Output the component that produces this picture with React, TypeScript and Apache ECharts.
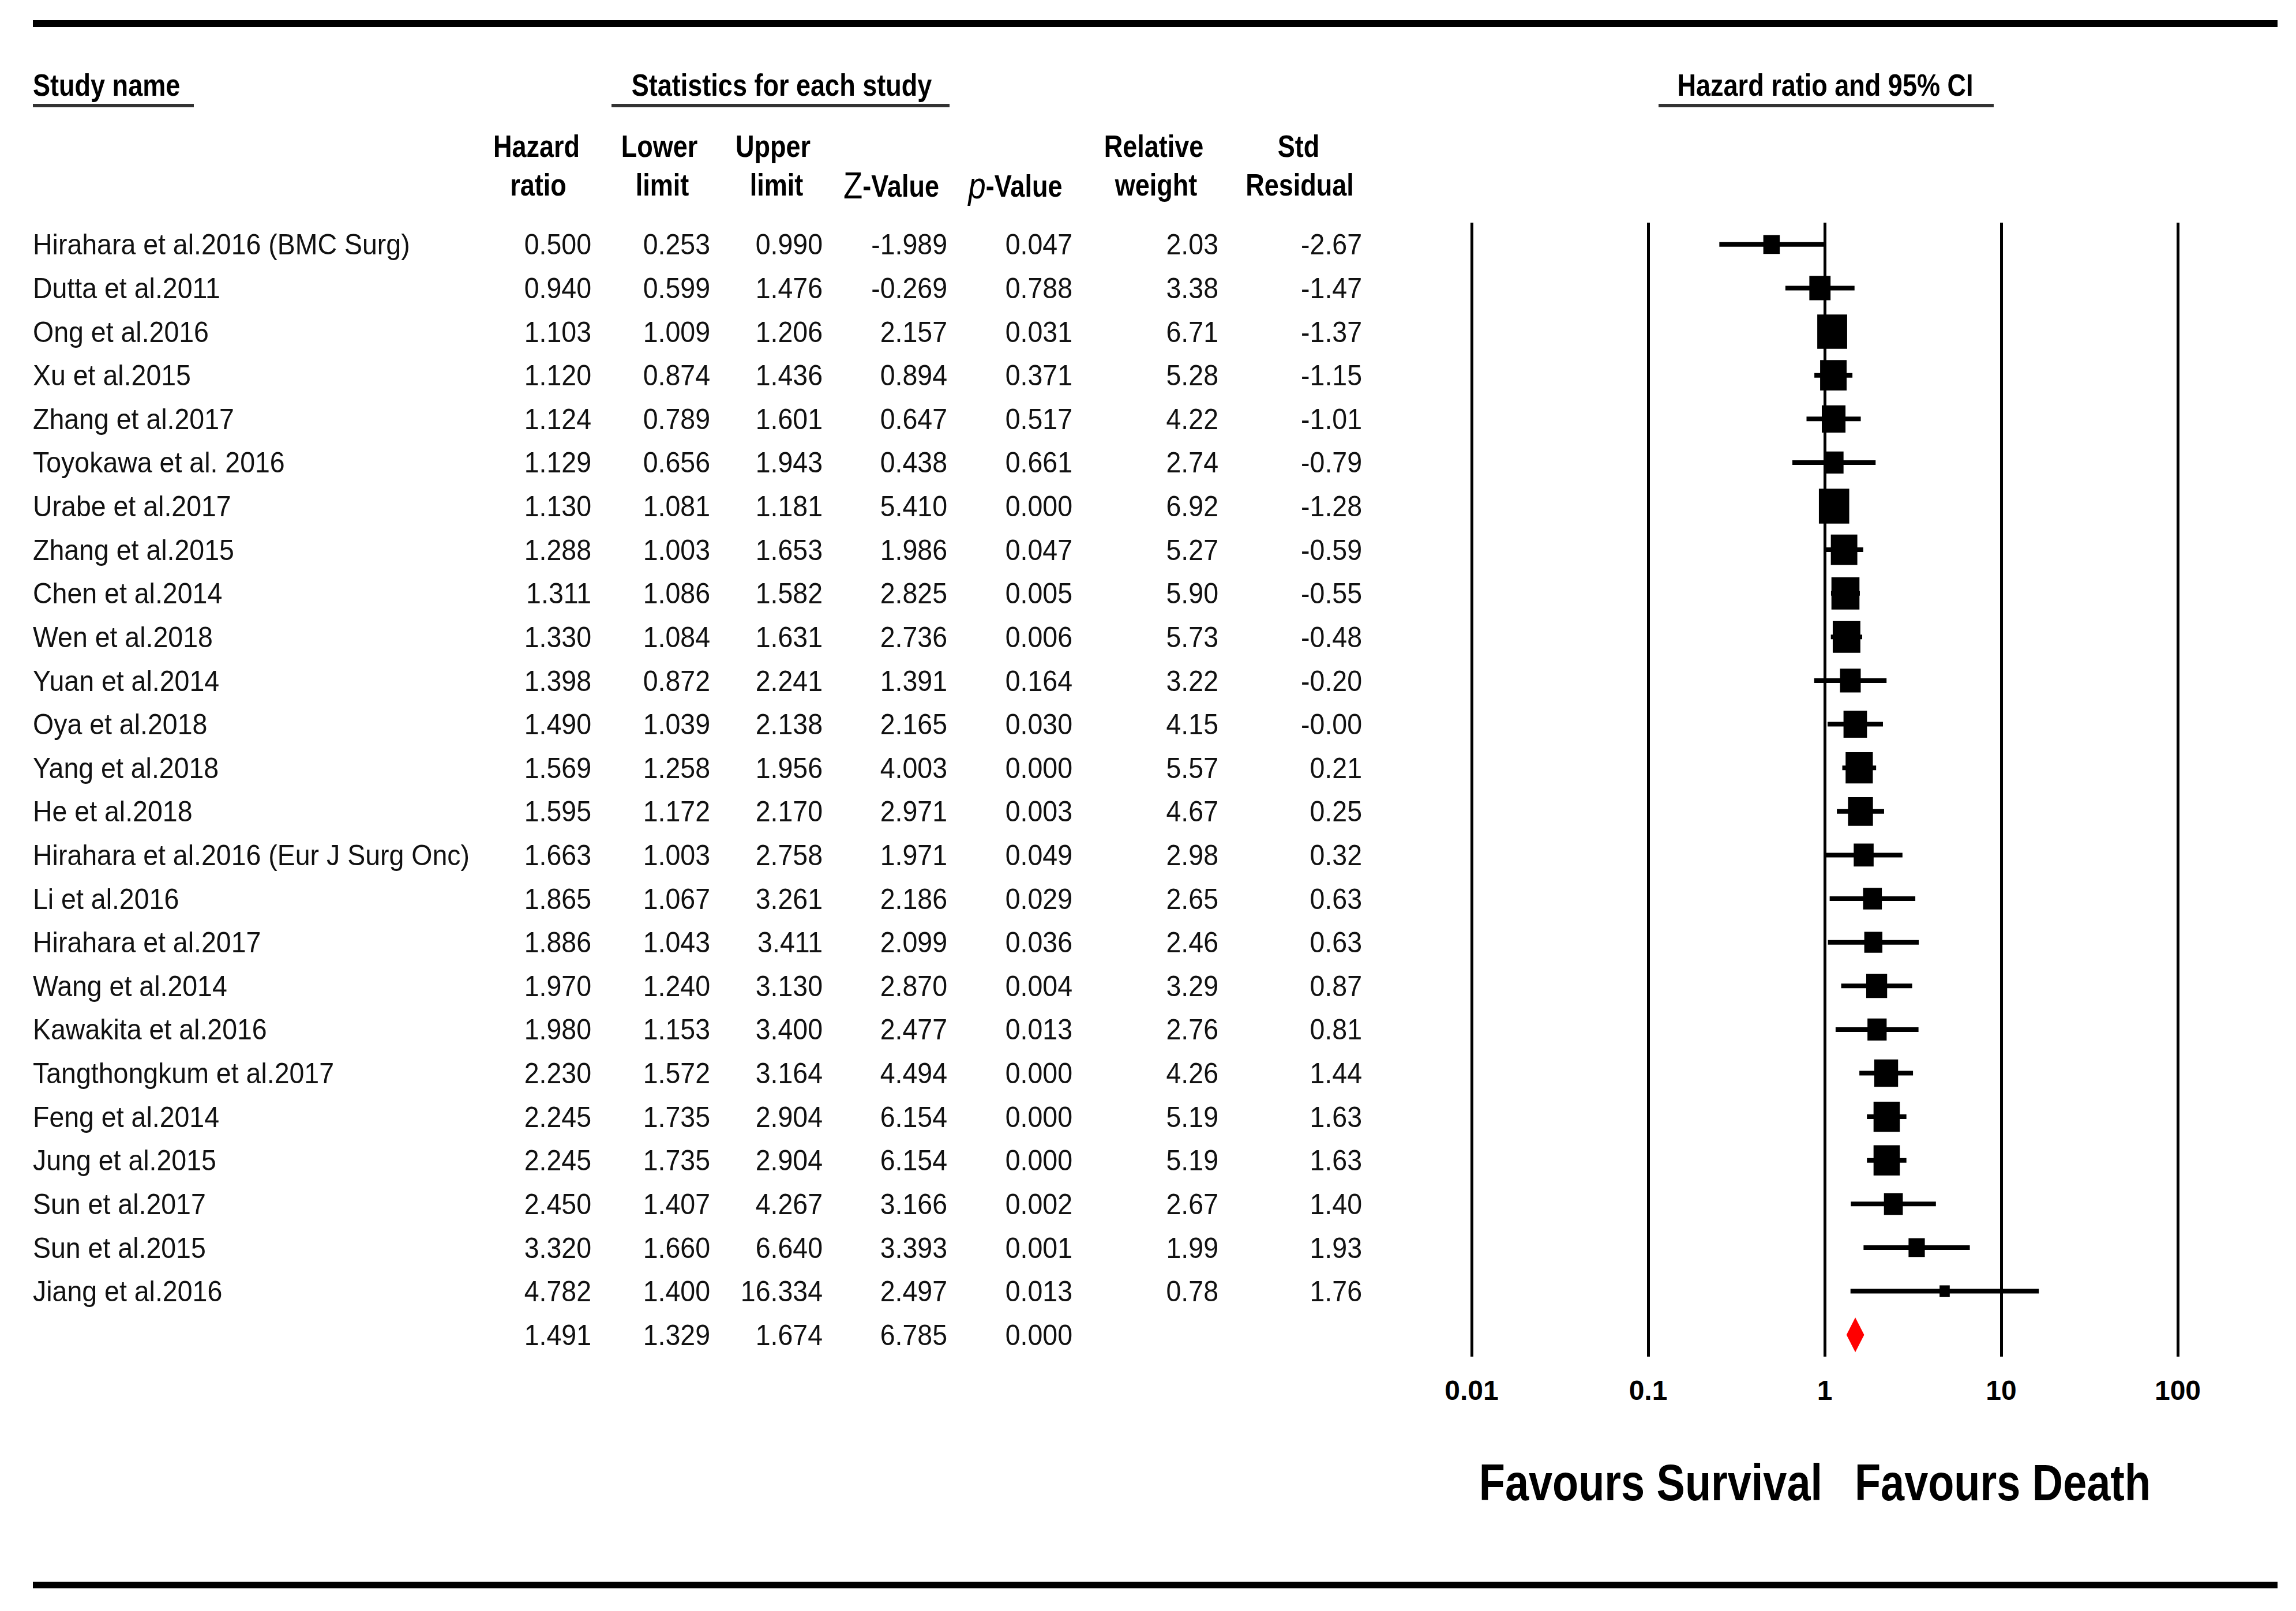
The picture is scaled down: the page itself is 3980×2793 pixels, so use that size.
import React, { useEffect, useRef } from "react";
import * as echarts from "echarts";

// ---------------- data ----------------
const STUDIES = [
  "Hirahara et al.2016 (BMC Surg)",
  "Dutta et al.2011",
  "Ong et al.2016",
  "Xu et al.2015",
  "Zhang et al.2017",
  "Toyokawa et al. 2016",
  "Urabe et al.2017",
  "Zhang et al.2015",
  "Chen et al.2014",
  "Wen et al.2018",
  "Yuan et al.2014",
  "Oya et al.2018",
  "Yang et al.2018",
  "He et al.2018",
  "Hirahara et al.2016 (Eur J Surg Onc)",
  "Li et al.2016",
  "Hirahara et al.2017",
  "Wang et al.2014",
  "Kawakita et al.2016",
  "Tangthongkum et al.2017",
  "Feng et al.2014",
  "Jung et al.2015",
  "Sun et al.2017",
  "Sun et al.2015",
  "Jiang et al.2016",
];
const HAZARD_RATIO = [0.5, 0.94, 1.103, 1.12, 1.124, 1.129, 1.13, 1.288, 1.311, 1.33, 1.398, 1.49, 1.569, 1.595, 1.663, 1.865, 1.886, 1.97, 1.98, 2.23, 2.245, 2.245, 2.45, 3.32, 4.782];
const LOWER_LIMIT = [0.253, 0.599, 1.009, 0.874, 0.789, 0.656, 1.081, 1.003, 1.086, 1.084, 0.872, 1.039, 1.258, 1.172, 1.003, 1.067, 1.043, 1.24, 1.153, 1.572, 1.735, 1.735, 1.407, 1.66, 1.4];
const UPPER_LIMIT = [0.99, 1.476, 1.206, 1.436, 1.601, 1.943, 1.181, 1.653, 1.582, 1.631, 2.241, 2.138, 1.956, 2.17, 2.758, 3.261, 3.411, 3.13, 3.4, 3.164, 2.904, 2.904, 4.267, 6.64, 16.334];
const Z_VALUE = [-1.989, -0.269, 2.157, 0.894, 0.647, 0.438, 5.41, 1.986, 2.825, 2.736, 1.391, 2.165, 4.003, 2.971, 1.971, 2.186, 2.099, 2.87, 2.477, 4.494, 6.154, 6.154, 3.166, 3.393, 2.497];
const P_VALUE = [0.047, 0.788, 0.031, 0.371, 0.517, 0.661, 0.0, 0.047, 0.005, 0.006, 0.164, 0.03, 0.0, 0.003, 0.049, 0.029, 0.036, 0.004, 0.013, 0.0, 0.0, 0.0, 0.002, 0.001, 0.013];
const RELATIVE_WEIGHT = [2.03, 3.38, 6.71, 5.28, 4.22, 2.74, 6.92, 5.27, 5.9, 5.73, 3.22, 4.15, 5.57, 4.67, 2.98, 2.65, 2.46, 3.29, 2.76, 4.26, 5.19, 5.19, 2.67, 1.99, 0.78];
const STD_RESIDUAL = [-2.67, -1.47, -1.37, -1.15, -1.01, -0.79, -1.28, -0.59, -0.55, -0.48, -0.2, -0.004, 0.21, 0.25, 0.32, 0.63, 0.63, 0.87, 0.81, 1.44, 1.63, 1.63, 1.4, 1.93, 1.76];
const SUMMARY = [1.491, 1.329, 1.674, 6.785, 0.0]; // HR, lower, upper, Z, p

const AXIS_MIN = 0.01;
const AXIS_MAX = 100;

// ---------------- layout ----------------
const W = 3980;
const H = 2793;
const FONT = "'Liberation Sans', Arial, Helvetica, sans-serif";
const ROWS_TOP = 386;
const ROWS_HEIGHT = 1966;
const FOREST_LEFT = 2551;
const FOREST_WIDTH = 1224;
const COL = { name: 57, hr: 1025, lo: 1231, up: 1426, z: 1642, p: 1859, w: 2112, sr: 2361 };
const BODY_SIZE = 50;
const BODY_SCALE = 0.93;
const HEAD_SIZE = 53;
const HEAD_SCALE = 0.85;

function headText(text: string, x: number, y: number, align: string, extra: any = {}) {
  return {
    type: "text",
    x,
    y,
    scaleX: HEAD_SCALE,
    style: {
      text,
      fill: "#000",
      fontSize: HEAD_SIZE,
      fontWeight: "bold",
      fontFamily: FONT,
      align,
      verticalAlign: "middle",
      textAlign: align,
      textVerticalAlign: "middle",
      ...extra,
    },
  };
}

function rule(x1: number, x2: number, y: number, h: number, color = "#000") {
  return { type: "rect", shape: { x: x1, y: y - h / 2, width: x2 - x1, height: h }, style: { fill: color } };
}

export default function App() {
  const ref = useRef<HTMLDivElement>(null);

  useEffect(() => {
    if (!ref.current) return;
    const chart = echarts.init(ref.current, null, { renderer: "svg" });
    const nRows = STUDIES.length + 1;
    const rowCats = [...STUDIES, ""];

    const bodyText = (text: string, x: number, y: number, align: string) => ({
      type: "text",
      x,
      y,
      scaleX: BODY_SCALE,
      style: {
        text,
        fill: "#111",
        fontSize: BODY_SIZE,
        fontFamily: FONT,
        align,
        verticalAlign: "middle",
        textAlign: align,
        textVerticalAlign: "middle",
      },
    });

    const tableData = rowCats.map((_, i) => [0, i]);
    const forestData = STUDIES.map((_, i) => [HAZARD_RATIO[i], LOWER_LIMIT[i], UPPER_LIMIT[i], i]);

    const zRich = {
      z: { fontSize: 64, fontFamily: FONT, fontWeight: "normal", fill: "#000" },
      p: { fontSize: 64, fontFamily: FONT, fontWeight: "normal", fontStyle: "italic", fill: "#000" },
      v: { fontSize: HEAD_SIZE, fontFamily: FONT, fontWeight: "bold", fill: "#000" },
    };

    const option: any = {
      animation: false,
      backgroundColor: "#fff",
      grid: [
        { left: 0, top: ROWS_TOP, width: W, height: ROWS_HEIGHT },
        { left: FOREST_LEFT, top: ROWS_TOP, width: FOREST_WIDTH, height: ROWS_HEIGHT },
      ],
      xAxis: [
        { type: "value", gridIndex: 0, min: 0, max: W, show: false },
        {
          type: "log",
          gridIndex: 1,
          logBase: 10,
          min: AXIS_MIN,
          max: AXIS_MAX,
          axisLine: { show: false },
          axisTick: { show: false },
          splitLine: { show: true, lineStyle: { color: "#000", width: 5 } },
          axisLabel: {
            fontSize: 48,
            fontWeight: "bold",
            fontFamily: FONT,
            color: "#000",
            margin: 34,
          },
        },
      ],
      yAxis: [
        { type: "category", gridIndex: 0, data: rowCats, inverse: true, show: false },
        { type: "category", gridIndex: 1, data: rowCats, inverse: true, show: false },
      ],
      series: [
        {
          type: "custom",
          name: "table",
          xAxisIndex: 0,
          yAxisIndex: 0,
          data: tableData,
          encode: { x: 0, y: 1 },
          renderItem: (params: any, api: any) => {
            const i = params.dataIndex;
            const y = api.coord([0, api.value(1)])[1];
            const cx = (v: number) => api.coord([v, api.value(1)])[0];
            const children: any[] = [];
            if (i < STUDIES.length) {
              children.push(bodyText(STUDIES[i], cx(COL.name), y, "left"));
              children.push(bodyText(HAZARD_RATIO[i].toFixed(3), cx(COL.hr), y, "right"));
              children.push(bodyText(LOWER_LIMIT[i].toFixed(3), cx(COL.lo), y, "right"));
              children.push(bodyText(UPPER_LIMIT[i].toFixed(3), cx(COL.up), y, "right"));
              children.push(bodyText(Z_VALUE[i].toFixed(3), cx(COL.z), y, "right"));
              children.push(bodyText(P_VALUE[i].toFixed(3), cx(COL.p), y, "right"));
              children.push(bodyText(RELATIVE_WEIGHT[i].toFixed(2), cx(COL.w), y, "right"));
              children.push(bodyText(STD_RESIDUAL[i].toFixed(2), cx(COL.sr), y, "right"));
            } else {
              const cols = [COL.hr, COL.lo, COL.up, COL.z, COL.p];
              SUMMARY.forEach((v, k) => children.push(bodyText(v.toFixed(3), cx(cols[k]), y, "right")));
            }
            return { type: "group", children };
          },
        },
        {
          type: "custom",
          name: "studies",
          xAxisIndex: 1,
          yAxisIndex: 1,
          data: forestData,
          encode: { x: [0, 1, 2], y: 3 },
          renderItem: (params: any, api: any) => {
            const i = params.dataIndex;
            const row = api.value(3);
            const pc = api.coord([api.value(0), row]);
            const pl = api.coord([api.value(1), row]);
            const ph = api.coord([api.value(2), row]);
            const s = Math.sqrt(RELATIVE_WEIGHT[i]);
            const bw = 20 * s;
            const bh = 23 * s;
            return {
              type: "group",
              children: [
                {
                  type: "line",
                  shape: { x1: pl[0], y1: pl[1], x2: ph[0], y2: ph[1] },
                  style: { stroke: "#000", lineWidth: 8 },
                },
                {
                  type: "rect",
                  shape: { x: pc[0] - bw / 2, y: pc[1] - bh / 2, width: bw, height: bh },
                  style: { fill: "#000" },
                },
              ],
            };
          },
        },
        {
          type: "custom",
          name: "summary",
          xAxisIndex: 1,
          yAxisIndex: 1,
          data: [[SUMMARY[0], SUMMARY[1], SUMMARY[2], STUDIES.length]],
          encode: { x: [0, 1, 2], y: 3 },
          renderItem: (params: any, api: any) => {
            const row = api.value(3);
            const pc = api.coord([api.value(0), row]);
            const pl = api.coord([api.value(1), row]);
            const ph = api.coord([api.value(2), row]);
            const hh = 30;
            return {
              type: "polygon",
              shape: {
                points: [
                  [pl[0], pc[1]],
                  [pc[0], pc[1] - hh],
                  [ph[0], pc[1]],
                  [pc[0], pc[1] + hh],
                ],
              },
              style: { fill: "#ff0000" },
            };
          },
        },
      ],
      graphic: [
        rule(57, 3948, 41, 12),
        rule(57, 3948, 2748, 11),
        headText("Study name", 57, 147, "left"),
        rule(57, 336, 183, 6, "#333"),
        headText("Statistics for each study", 1355, 147, "center"),
        rule(1060, 1646, 183, 6, "#333"),
        headText("Hazard ratio and 95% CI", 3164, 147, "center"),
        rule(2875, 3456, 183, 6, "#333"),
        headText("Hazard", 930, 253, "center"),
        headText("ratio", 933, 320, "center"),
        headText("Lower", 1143, 253, "center"),
        headText("limit", 1148, 320, "center"),
        headText("Upper", 1340, 253, "center"),
        headText("limit", 1346, 320, "center"),
        headText("{z|Z}{v|-Value}", 1545, 322, "center", { rich: zRich }),
        headText("{p|p}{v|-Value}", 1760, 322, "center", { rich: zRich }),
        headText("Relative", 2000, 253, "center"),
        headText("weight", 2004, 320, "center"),
        headText("Std", 2251, 253, "center"),
        headText("Residual", 2253, 320, "center"),
        {
          type: "text",
          x: 3159,
          y: 2570,
          scaleX: 0.83,
          style: {
            text: "Favours Survival",
            fill: "#000",
            fontSize: 89,
            fontWeight: "bold",
            fontFamily: FONT,
            align: "right",
            verticalAlign: "middle",
            textAlign: "right",
            textVerticalAlign: "middle",
          },
        },
        {
          type: "text",
          x: 3215,
          y: 2570,
          scaleX: 0.83,
          style: {
            text: "Favours Death",
            fill: "#000",
            fontSize: 89,
            fontWeight: "bold",
            fontFamily: FONT,
            align: "left",
            verticalAlign: "middle",
            textAlign: "left",
            textVerticalAlign: "middle",
          },
        },
      ],
    };

    chart.setOption(option);
    return () => chart.dispose();
  }, []);

  return (
    <div
      ref={ref}
      style={{ position: "fixed", left: 0, top: 0, width: W, height: H, background: "#fff" }}
    />
  );
}
